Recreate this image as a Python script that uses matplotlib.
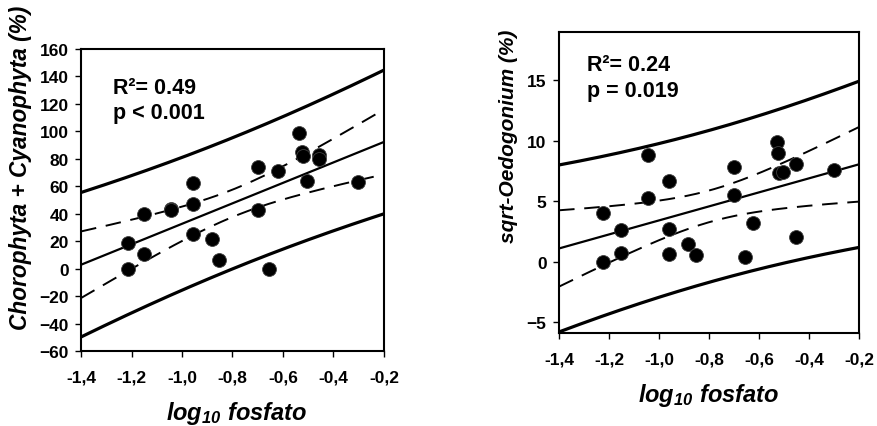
import numpy as np
import matplotlib
matplotlib.use("Agg")
import matplotlib.pyplot as plt

plt.rcParams['font.family'] = ['Liberation Sans Narrow', 'Liberation Sans', 'DejaVu Sans']
plt.rcParams['font.weight'] = 'bold'
plt.rcParams['mathtext.fontset'] = 'custom'
plt.rcParams['mathtext.it'] = 'Liberation Sans:bold:italic'
plt.rcParams['mathtext.rm'] = 'Liberation Sans:bold:italic'

# log10 fosfato (shared x values)
x_left = [-1.215, -1.215, -1.15, -1.15, -1.044, -1.044, -0.955, -0.958, -0.955, -0.883, -0.852,
          -0.698, -0.700, -0.654, -0.618, -0.537, -0.525, -0.520, -0.506, -0.456, -0.456, -0.304]
y_left = [18.7, 0.0, 40.0, 10.5, 43.8, 43.0, 62.7, 47.4, 25.0, 21.4, 6.0,
          74.0, 43.0, 0.0, 71.0, 98.5, 85.0, 82.0, 64.0, 83.0, 80.0, 63.0]

x_right = [-1.223, -1.223, -1.153, -1.153, -1.045, -1.045, -0.959, -0.959, -0.959, -0.885, -0.853,
           -0.700, -0.700, -0.656, -0.623, -0.529, -0.523, -0.520, -0.505, -0.452, -0.452, -0.299]
y_right = [3.99, 0.0, 2.58, 0.69, 8.8, 5.3, 6.65, 2.69, 0.61, 1.5, 0.55,
           7.8, 5.54, 0.42, 3.19, 9.9, 9.0, 7.34, 7.45, 8.09, 2.0, 7.59]

T_CRIT = 2.086  # t(0.975, df=20)


def bands(x, y, xs):
    x = np.asarray(x)
    y = np.asarray(y)
    n = len(x)
    b, a = np.polyfit(x, y, 1)
    resid = y - (a + b * x)
    s = np.sqrt(np.sum(resid ** 2) / (n - 2))
    sxx = np.sum((x - x.mean()) ** 2)
    fit = a + b * xs
    ci = T_CRIT * s * np.sqrt(1 / n + (xs - x.mean()) ** 2 / sxx)
    pi = T_CRIT * s * np.sqrt(1 + 1 / n + (xs - x.mean()) ** 2 / sxx)
    return fit, ci, pi


def panel(ax, x, y, ylim, yticks, r2, pval, tx, ty1, ty2):
    xs = np.linspace(-1.4, -0.2, 200)
    fit, ci, pi = bands(x, y, xs)
    ax.plot(xs, fit, color='black', lw=1.6)
    ax.plot(xs, fit + ci, color='black', lw=1.4, dashes=(8, 5))
    ax.plot(xs, fit - ci, color='black', lw=1.4, dashes=(8, 5))
    ax.plot(xs, fit + pi, color='black', lw=2.3)
    ax.plot(xs, fit - pi, color='black', lw=2.3)
    ax.plot(x, y, 'o', color='black', markersize=10, markeredgecolor='0.25', markeredgewidth=0.6,
            zorder=3)
    ax.set_xlim(-1.4, -0.2)
    ax.set_ylim(*ylim)
    ax.set_xticks([-1.4, -1.2, -1.0, -0.8, -0.6, -0.4, -0.2])
    ax.set_xticklabels(['-1,4', '-1,2', '-1,0', '-0,8', '-0,6', '-0,4', '-0,2'])
    ax.set_yticks(yticks)
    ax.tick_params(direction='out', length=4, width=1, labelsize=12.5)
    ax.tick_params(axis='x', pad=9)
    ax.tick_params(axis='y', pad=5)
    for sp in ax.spines.values():
        sp.set_linewidth(1.5)
    ax.text(tx, ty1, r2, transform=ax.transAxes, va='baseline', ha='left',
            fontsize=15.5, fontweight='bold', family='Liberation Sans')
    ax.text(tx, ty2, pval, transform=ax.transAxes, va='baseline', ha='left',
            fontsize=15.5, fontweight='bold', family='Liberation Sans')


fig = plt.figure(figsize=(8.78, 4.27), dpi=100)
ax1 = fig.add_axes([0.0923, 0.1756, 0.345, 0.7073])
ax2 = fig.add_axes([0.6367, 0.2178, 0.3417, 0.705])

panel(ax1, x_left, y_left, (-60, 160), range(-60, 161, 20), 'R²= 0.49', 'p < 0.001',
      0.106, 0.854, 0.771)
panel(ax2, x_right, y_right, (-5.9, 19.0), [-5, 0, 5, 10, 15], 'R²= 0.24', 'p = 0.019',
      0.093, 0.874, 0.787)

fig.text(21 / 878, 1 - 168 / 427, 'Chorophyta + Cyanophyta (%)', rotation=90, ha='center',
         va='center', fontsize=16.3, fontweight='bold', style='italic', family='Liberation Sans')
fig.text(509 / 878, 1 - 136 / 427, 'sqrt-Oedogonium (%)', rotation=90, ha='center',
         va='center', fontsize=15, fontweight='bold', style='italic', family='Liberation Sans')
fig.text(237 / 878, 1 - 420 / 427, r'$log_{10}\ fosfato$', ha='center', va='baseline', fontsize=17)
fig.text(709 / 878, 1 - 402 / 427, r'$log_{10}\ fosfato$', ha='center', va='baseline', fontsize=17)

fig.savefig('out.png', dpi=100)
